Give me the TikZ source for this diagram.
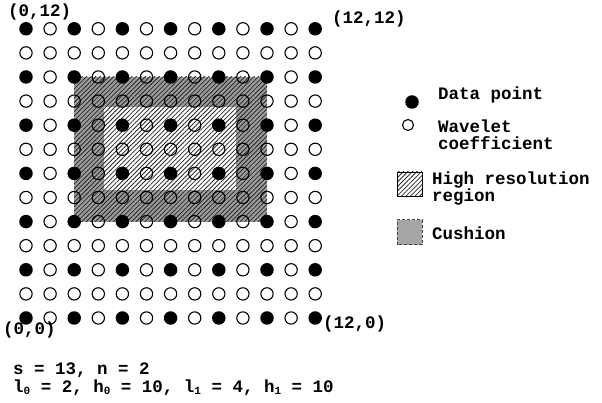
\documentclass[tikz,border=0pt]{standalone}
\usepackage{fontspec}
\setmonofont{Liberation Mono}
\usetikzlibrary{patterns.meta}
\definecolor{cushiongray}{HTML}{9C9C9C}
\definecolor{legendgray}{HTML}{A6A6A6}
\newcommand{\idx}[1]{\raisebox{-1.5pt}{\fontsize{11}{11}\selectfont #1}}
\tikzset{
  datapt/.style={circle, fill=black, inner sep=0pt, minimum size=13.5pt},
  wavept/.style={circle, draw=black, line width=1.1pt, inner sep=0pt, minimum size=12.3pt},
  lbl/.style={font=\fontsize{17.5}{17}\selectfont\ttfamily\bfseries, inner sep=0pt, anchor=west, align=left},
  hatch/.style={pattern={Lines[angle=45, distance=3.2pt, line width=0.8pt]}, pattern color=black!85},
}
\begin{document}
\begin{tikzpicture}[x=1pt, y=1pt]
  \useasboundingbox (0,0) rectangle (602,403);

  % grid of the finest level: 13 x 13 points
  \begin{scope}[shift={(26pt,85pt)}, x=24.1pt, y=24.1pt]
    % cushion around the high resolution region
    \fill[cushiongray] (2,4) rectangle (10,10);
    \fill[white] (3.25,5.31) rectangle (8.71,8.75);
    \fill[hatch] (2,4) rectangle (10,10);
    % data points on even indices, wavelet coefficients elsewhere
    \foreach \i in {0,...,12}{
      \foreach \j in {0,...,12}{
        \pgfmathtruncatemacro\ev{(mod(\i,2)==0)&&(mod(\j,2)==0)}
        \ifnum\ev=1
          \node[datapt] (p-\i-\j) at (\i,\j) {};
        \else
          \node[wavept] (p-\i-\j) at (\i,\j) {};
        \fi
      }
    }
  \end{scope}

  % corner labels
  \node[lbl] (c012) at (8,391) {(0,12)};
  \node[lbl] (c1212) at (332,384) {(12,12)};
  \node[lbl] (c00) at (3,73) {(0,0)};
  \node[lbl] (c120) at (323,79) {(12,0)};

  % legend
  \node[datapt] (lgdata) at (412,301) {};
  \node[lbl] (lgdatatxt) at (438,308) {Data point};
  \node[wavept, minimum size=11pt] (lgwave) at (408,278) {};
  \node[lbl] (lgwavetxt) at (438,268) {Wavelet\\coefficient};
  \draw[hatch, draw=black, line width=0.8pt] (397,207) rectangle (422,231);
  \node[lbl] (lghightxt) at (432,214) {High resolution\\region};
  \draw[fill=legendgray, draw=black!75, dashed, dash pattern=on 3pt off 2pt, line width=1pt] (397,158) rectangle (422,183);
  \node[lbl] (lgcushtxt) at (432,170) {Cushion};

  % parameters
  \node[lbl] (params1) at (13,33) {s = 13, n = 2};
  \node[lbl] (params2) at (13,15) {l\idx{0} = 2, h\idx{0} = 10, l\idx{1} = 4, h\idx{1} = 10};
\end{tikzpicture}
\end{document}
